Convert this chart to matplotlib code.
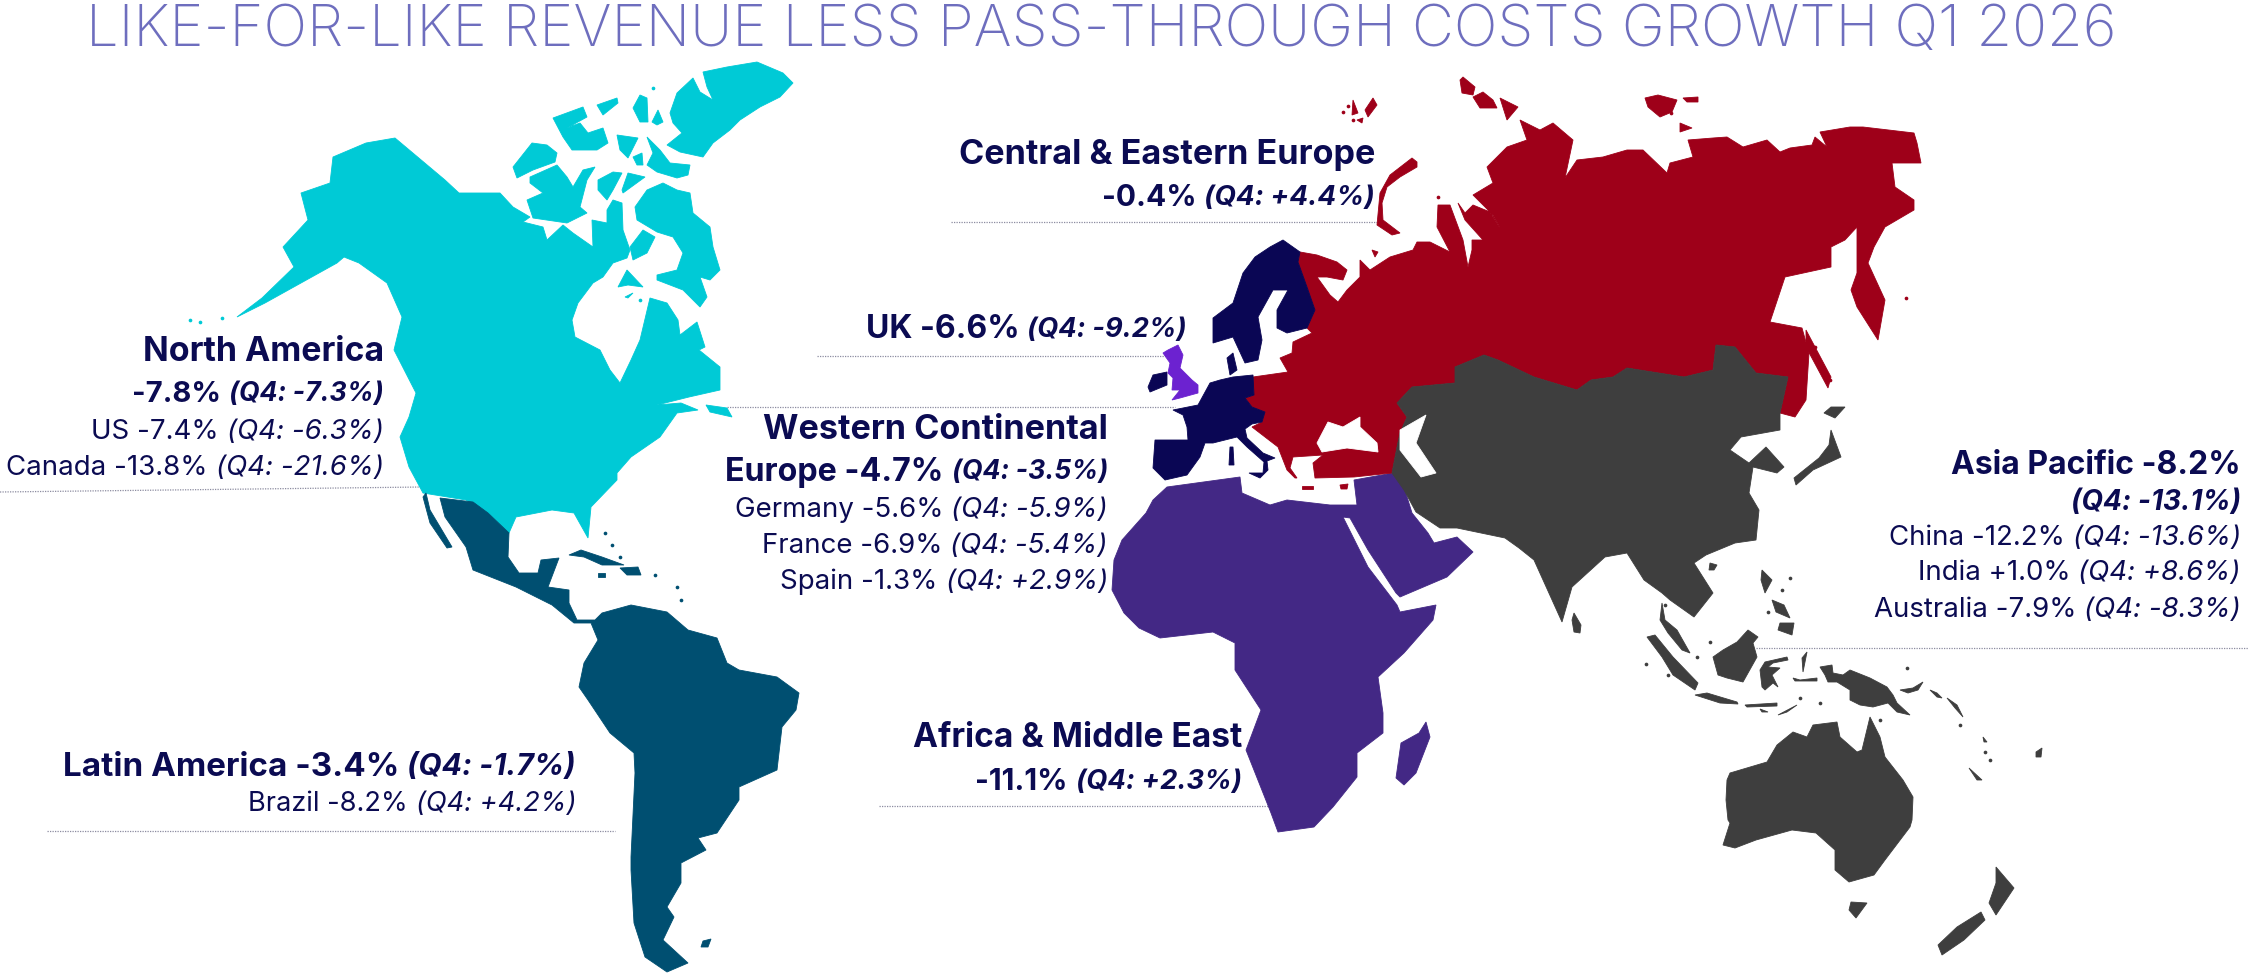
"""Like-for-like revenue less pass-through costs growth, world map with regional figures."""

import matplotlib
matplotlib.use("Agg")
import matplotlib.pyplot as plt
from matplotlib.patches import Polygon

plt.rcParams["font.family"] = ["Inter", "DejaVu Sans"]

TITLE = "LIKE-FOR-LIKE REVENUE LESS PASS-THROUGH COSTS GROWTH Q1 2026"

CYAN = "#00CAD6"
TEAL = "#004F71"
PURPLE = "#432885"
RED = "#9E0019"
GREY = "#3E3E3E"
NAVY = "#0A0654"
VIOLET = "#6C22D0"
INK = "#0B0B52"
RULE = "#8C8CA0"

# map outlines, in image pixels
NORTH_AMERICA = [
    (395, 138), (445, 180), (459, 193), (480, 193), (500, 193), (513, 207), (530, 217), (523, 222),
    (543, 227), (547, 240), (563, 225), (573, 233), (593, 247), (592, 220), (607, 223), (607, 210),
    (613, 200), (622, 203), (623, 230), (630, 250), (627, 258), (613, 263), (603, 277), (593, 283),
    (578, 303), (572, 320), (575, 337), (600, 350), (610, 370), (620, 383), (631, 360), (640, 340),
    (650, 298), (667, 303), (678, 320), (680, 335), (697, 322), (705, 347), (699, 350), (720, 367),
    (720, 390), (689, 397), (657, 405), (681, 403), (698, 410), (677, 413), (660, 437), (631, 457),
    (617, 473), (617, 480), (591, 507), (588, 538), (574, 513), (552, 510), (516, 517), (509, 533),
    (488, 513), (466, 500), (423, 493), (409, 467), (400, 437), (409, 417), (416, 393), (394, 350),
    (402, 317), (387, 283), (359, 263), (344, 257), (337, 263), (301, 283), (265, 303), (237, 317),
    (262, 298), (294, 267), (283, 247), (308, 220), (301, 193), (330, 183), (333, 157), (366, 143),
]
ELLESMERE = [
    (703, 72), (727, 67), (757, 62), (783, 73), (793, 83), (780, 97), (760, 107), (740, 120),
    (730, 130), (713, 143), (703, 157), (680, 152), (667, 145), (682, 133), (673, 123), (670, 113),
    (677, 93), (693, 78), (700, 92), (713, 100), (707, 87),
]
DEVON = [(647, 137), (660, 150), (670, 163), (690, 165), (688, 175), (677, 178), (657, 172), (647, 165), (653, 153)]
MELVILLE_IS = [
    (553, 118), (583, 107), (587, 117), (567, 128), (580, 123), (588, 133), (603, 128), (608, 143),
    (597, 150), (572, 150), (563, 137),
]
BORDEN = [(597, 105), (617, 98), (618, 103), (603, 115)]
AXEL = [(633, 108), (640, 95), (647, 98), (648, 122), (640, 122)]
AMUND = [(652, 122), (658, 110), (663, 122), (657, 125)]
BATHURST = [(617, 135), (638, 138), (628, 158), (620, 150)]
CORNWALLIS = [(633, 157), (642, 153), (643, 165), (637, 165)]
BANKS = [(513, 167), (532, 143), (547, 145), (557, 153), (555, 162), (533, 170), (517, 178)]
VICTORIA = [
    (530, 177), (557, 165), (567, 177), (573, 187), (583, 170), (595, 167), (587, 180), (580, 207),
    (587, 213), (567, 223), (533, 218), (527, 200), (543, 193), (530, 183),
]
PRINCE_WALES = [(598, 180), (613, 172), (622, 173), (613, 190), (607, 200), (598, 190)]
SOMERSET = [(628, 173), (645, 177), (623, 193), (622, 190)]
BAFFIN = [
    (635, 207), (647, 190), (663, 183), (677, 190), (690, 193), (693, 213), (710, 227), (713, 247),
    (720, 270), (710, 280), (700, 277), (707, 297), (700, 307), (683, 290), (657, 280), (657, 275),
    (677, 270), (683, 253), (673, 237), (657, 232), (637, 220),
]
MELVILLE_PEN = [(630, 247), (643, 230), (655, 237), (647, 253), (633, 260)]
SOUTHAMPTON = [(618, 287), (627, 270), (643, 287), (628, 285)]
COATS = [(625, 297), (633, 293), (628, 298)]
NEWFOUNDLAND = [(706, 405), (727, 408), (732, 417), (710, 412)]

LATIN_AMERICA = [
    (440, 498), (473, 502), (488, 513), (509, 533), (508, 557), (519, 573), (538, 573), (541, 560),
    (559, 558), (548, 587), (569, 590), (569, 603), (577, 620), (595, 620), (602, 613), (631, 605),
    (667, 612), (688, 630), (717, 638), (727, 663), (739, 670), (777, 677), (799, 693), (796, 710),
    (782, 727), (777, 770), (739, 787), (739, 800), (717, 833), (698, 838), (706, 850), (681, 863),
    (681, 883), (667, 907), (674, 917), (663, 940), (688, 963), (667, 972), (645, 957), (634, 923),
    (631, 870), (631, 857), (635, 773), (634, 753), (610, 733), (588, 700), (579, 687), (584, 663),
    (598, 640), (591, 623), (574, 623), (552, 605), (516, 587), (473, 570), (466, 547), (445, 517),
]
BAJA = [(426, 493), (430, 510), (452, 547), (447, 548), (430, 523), (423, 497)]
CUBA = [(569, 555), (581, 550), (602, 557), (624, 565), (602, 565), (584, 557)]
HISPANIOLA = [(620, 568), (638, 567), (641, 575), (627, 575)]
JAMAICA = [(598, 573), (605, 573), (605, 577), (598, 577)]
FALKLAND = [(703, 941), (711, 939), (708, 947), (701, 947)]

AFRICA_MIDDLE_EAST = [
    (1354, 480), (1393, 473), (1404, 487), (1412, 513), (1428, 533), (1434, 543), (1457, 537), (1473, 552),
    (1447, 577), (1400, 597), (1396, 593), (1368, 550), (1350, 518), (1343, 517), (1368, 567), (1397, 605),
    (1400, 612), (1436, 605), (1433, 620), (1404, 653), (1378, 677), (1383, 713), (1383, 733), (1357, 753),
    (1357, 777), (1333, 807), (1314, 827), (1278, 832), (1271, 813), (1246, 750), (1261, 710), (1235, 670),
    (1235, 643), (1213, 632), (1160, 638), (1139, 628), (1124, 613), (1112, 590), (1114, 560), (1122, 540),
    (1146, 513), (1153, 500), (1167, 487), (1240, 477), (1242, 493), (1270, 505), (1287, 500), (1330, 505),
    (1357, 505),
]
MADAGASCAR = [(1426, 722), (1430, 737), (1416, 773), (1404, 785), (1396, 778), (1401, 743), (1419, 733)]

RUSSIA_CEE = [
    (1300, 252), (1317, 255), (1337, 262), (1347, 270), (1343, 280), (1327, 277), (1317, 277), (1330, 295),
    (1338, 302), (1347, 290), (1360, 277), (1360, 260), (1370, 270), (1390, 257), (1413, 250), (1417, 242),
    (1430, 242), (1450, 252), (1437, 227), (1438, 205), (1450, 205), (1463, 240), (1468, 267), (1472, 250),
    (1472, 240), (1483, 240), (1465, 220), (1458, 203), (1465, 213), (1473, 205), (1490, 212), (1500, 228),
    (1493, 215), (1473, 195), (1493, 183), (1487, 167), (1507, 147), (1527, 140), (1520, 120), (1540, 130),
    (1553, 123), (1573, 140), (1565, 178), (1577, 160), (1603, 157), (1627, 150), (1643, 150), (1667, 173),
    (1670, 163), (1693, 157), (1688, 140), (1713, 138), (1727, 137), (1743, 147), (1767, 140), (1780, 152),
    (1790, 148), (1812, 145), (1815, 137), (1827, 147), (1820, 132), (1850, 127), (1863, 127), (1914, 133),
    (1917, 143), (1921, 163), (1892, 163), (1895, 187), (1914, 200), (1914, 210), (1885, 227), (1874, 247),
    (1868, 263), (1885, 300), (1878, 340), (1857, 307), (1851, 290), (1857, 273), (1857, 227), (1845, 240),
    (1831, 247), (1831, 267), (1785, 277), (1770, 322), (1802, 328), (1809, 353), (1806, 400), (1795, 417),
    (1780, 413), (1788, 377), (1756, 373), (1735, 347), (1716, 345), (1713, 370), (1684, 377), (1627, 368),
    (1613, 377), (1591, 380), (1577, 390), (1534, 377), (1498, 360), (1484, 355), (1455, 367), (1455, 383),
    (1412, 387), (1397, 403), (1407, 417), (1400, 433), (1397, 447), (1392, 473), (1354, 477), (1315, 478),
    (1313, 463), (1323, 455), (1293, 457), (1290, 468), (1297, 478), (1295, 478), (1287, 470), (1278, 447),
    (1252, 427), (1262, 422), (1265, 412), (1252, 407), (1245, 398), (1254, 395), (1253, 377), (1288, 372),
    (1280, 358), (1292, 353), (1293, 342), (1312, 333), (1307, 328), (1315, 310), (1307, 287), (1298, 262),
]
NOVAYA_ZEMLYA = [
    (1412, 158), (1417, 162), (1417, 167), (1400, 177), (1387, 187), (1382, 203), (1383, 220), (1400, 233),
    (1392, 235), (1377, 225), (1380, 193), (1390, 175),
]
SEVERNAYA_A = [(1460, 80), (1463, 77), (1475, 87), (1473, 95), (1462, 93)]
SEVERNAYA_B = [(1473, 97), (1483, 92), (1493, 100), (1497, 108), (1480, 108)]
SEVERNAYA_C = [(1500, 98), (1518, 107), (1507, 120)]
NEW_SIBERIAN = [(1645, 98), (1658, 95), (1677, 100), (1672, 112), (1660, 117), (1648, 107)]
DE_LONG = [(1683, 98), (1698, 97), (1698, 102), (1687, 102)]
LYAKHOV = [(1680, 123), (1692, 128), (1680, 132)]
FRANZ_A = [(1373, 98), (1377, 105), (1368, 117), (1365, 110)]
FRANZ_B = [(1353, 100), (1358, 113), (1352, 115)]
FRANZ_C = [(1357, 120), (1363, 118), (1362, 123)]
KOLGUEV = [(1372, 250), (1378, 252), (1375, 257)]
SAKHALIN = [(1806, 330), (1831, 377), (1828, 388), (1806, 347)]
CRETE = [(1302, 486), (1313, 486), (1313, 489), (1302, 489)]
CYPRUS = [(1340, 485), (1348, 484), (1347, 489), (1341, 489)]

ASIA_PACIFIC = [
    (1412, 387), (1455, 383), (1455, 367), (1484, 355), (1498, 360), (1534, 377), (1577, 390), (1591, 380),
    (1613, 377), (1627, 368), (1684, 377), (1713, 370), (1716, 345), (1735, 347), (1756, 373), (1788, 377),
    (1780, 413), (1780, 430), (1741, 437), (1730, 450), (1749, 463), (1766, 447), (1784, 467), (1777, 473),
    (1753, 467), (1749, 493), (1759, 510), (1756, 540), (1735, 543), (1706, 555), (1694, 563), (1713, 593),
    (1694, 617), (1670, 600), (1662, 593), (1644, 580), (1627, 553), (1605, 557), (1572, 587), (1562, 622),
    (1534, 560), (1519, 548), (1505, 538), (1457, 528), (1440, 528), (1416, 512), (1404, 490), (1392, 473),
    (1397, 447), (1400, 433), (1407, 417), (1397, 403),
]
MALAY = [(1662, 603), (1665, 620), (1677, 630), (1690, 653), (1682, 650), (1668, 633), (1660, 620)]
SRI_LANKA = [(1574, 613), (1581, 625), (1580, 633), (1574, 632), (1572, 620)]
SUMATRA = [(1647, 637), (1655, 635), (1673, 657), (1698, 683), (1695, 690), (1673, 675), (1662, 657)]
BORNEO = [
    (1748, 630), (1758, 637), (1753, 643), (1757, 657), (1743, 682), (1727, 678), (1718, 675), (1713, 657),
    (1723, 650), (1737, 642),
]
SULAWESI = [
    (1765, 662), (1787, 657), (1788, 660), (1773, 663), (1768, 667), (1780, 668), (1772, 675), (1778, 687),
    (1773, 683), (1765, 690), (1762, 687), (1760, 670),
]
JAVA = [(1695, 695), (1707, 693), (1737, 702), (1738, 704), (1720, 703)]
SUNDA = [(1745, 705), (1777, 703), (1777, 706), (1747, 707)]
TIMOR = [(1778, 715), (1797, 705), (1787, 712)]
SUMBA = [(1760, 709), (1768, 712), (1762, 712)]
SERAM = [(1793, 678), (1800, 680), (1817, 678), (1817, 681), (1795, 681)]
HALMAHERA = [(1802, 658), (1807, 652), (1805, 662), (1803, 672)]
PAPUA = [
    (1820, 667), (1832, 665), (1833, 673), (1843, 675), (1850, 670), (1870, 678), (1887, 687), (1893, 695),
    (1897, 703), (1910, 715), (1897, 712), (1888, 703), (1873, 707), (1860, 705), (1850, 700), (1850, 690),
    (1837, 682), (1828, 682), (1825, 675),
]
NEW_BRITAIN = [(1900, 690), (1913, 688), (1923, 682), (1918, 690), (1908, 693)]
SOLOMON_A = [(1930, 690), (1937, 693), (1942, 698), (1937, 697)]
SOLOMON_B = [(1947, 698), (1957, 705), (1963, 717), (1955, 708)]
NEW_CALEDONIA = [(1969, 768), (1982, 780), (1977, 780)]
VANUATU = [(1983, 737), (1987, 742), (1984, 742)]
LUZON = [(1762, 570), (1772, 580), (1765, 593), (1761, 580)]
MINDANAO = [(1780, 623), (1794, 623), (1792, 635), (1778, 630)]
VISAYAS = [(1772, 600), (1784, 605), (1790, 618), (1776, 612)]
HAINAN = [(1710, 563), (1717, 565), (1714, 570), (1709, 570)]
HOKKAIDO = [(1831, 407), (1845, 407), (1835, 418), (1824, 413)]
HONSHU = [(1831, 430), (1841, 457), (1813, 470), (1796, 485), (1794, 478), (1819, 458), (1829, 445)]
AUSTRALIA = [
    (1730, 773), (1767, 762), (1777, 745), (1793, 732), (1807, 737), (1813, 725), (1837, 722), (1840, 737),
    (1857, 752), (1862, 750), (1870, 717), (1880, 737), (1885, 757), (1903, 780), (1913, 797), (1912, 820),
    (1910, 827), (1885, 860), (1874, 875), (1849, 882), (1835, 870), (1835, 850), (1816, 833), (1792, 830),
    (1756, 840), (1735, 848), (1723, 845), (1730, 823), (1728, 820), (1726, 800), (1727, 780),
]
TASMANIA = [(1851, 902), (1867, 903), (1856, 918), (1849, 910)]
NZ_NORTH = [(1996, 867), (2014, 888), (1996, 915), (1989, 903), (1996, 883)]
NZ_SOUTH = [(1981, 912), (1985, 920), (1964, 940), (1942, 955), (1938, 945), (1957, 927)]
FIJI = [(2036, 752), (2042, 748), (2041, 757), (2036, 757)]

SCANDINAVIA = [
    (1300, 252), (1283, 240), (1270, 247), (1255, 257), (1243, 273), (1233, 303), (1213, 318), (1213, 343),
    (1233, 337), (1245, 363), (1258, 360), (1262, 340), (1258, 317), (1273, 290), (1288, 290), (1277, 310),
    (1277, 328), (1287, 333), (1307, 328), (1315, 310), (1307, 287), (1298, 262),
]
DENMARK = [(1227, 358), (1233, 353), (1237, 370), (1230, 375)]
WESTERN_EUROPE = [
    (1210, 383), (1220, 380), (1233, 377), (1253, 375), (1254, 395), (1245, 398), (1252, 407), (1265, 412),
    (1262, 422), (1252, 424), (1245, 429), (1247, 438), (1263, 453), (1275, 458), (1267, 461), (1268, 470),
    (1260, 478), (1249, 473), (1263, 473), (1264, 462), (1247, 447), (1237, 437), (1213, 443), (1205, 443),
    (1200, 457), (1187, 475), (1165, 480), (1153, 468), (1155, 440), (1188, 440), (1187, 427), (1183, 415),
    (1173, 410), (1198, 405),
]
SARDINIA = [(1230, 447), (1233, 447), (1234, 465), (1229, 465)]
IRELAND = [(1153, 375), (1167, 372), (1167, 385), (1150, 392), (1148, 387)]
UK = [
    (1168, 350), (1178, 345), (1183, 355), (1180, 368), (1192, 380), (1198, 385), (1198, 393), (1180, 398),
    (1172, 400), (1180, 390), (1172, 390), (1173, 378), (1168, 373), (1170, 363), (1163, 353),
]

# enclosed water drawn over the land
BLACK_SEA = [
    (1317, 443), (1328, 422), (1343, 427), (1360, 417), (1360, 427), (1377, 443), (1378, 452), (1347, 448),
    (1322, 452),
]
CASPIAN = [(1400, 430), (1426, 415), (1416, 443), (1436, 473), (1421, 477), (1400, 450)]

LANDS = [
    (CYAN, [NORTH_AMERICA, ELLESMERE, DEVON, MELVILLE_IS, BORDEN, AXEL, AMUND, BATHURST, CORNWALLIS, BANKS,
            VICTORIA, PRINCE_WALES, SOMERSET, BAFFIN, MELVILLE_PEN, SOUTHAMPTON, COATS, NEWFOUNDLAND]),
    (TEAL, [LATIN_AMERICA, BAJA, CUBA, HISPANIOLA, JAMAICA, FALKLAND]),
    (PURPLE, [AFRICA_MIDDLE_EAST, MADAGASCAR]),
    (RED, [RUSSIA_CEE, NOVAYA_ZEMLYA, SEVERNAYA_A, SEVERNAYA_B, SEVERNAYA_C, NEW_SIBERIAN, DE_LONG, LYAKHOV,
           FRANZ_A, FRANZ_B, FRANZ_C, KOLGUEV, SAKHALIN, CRETE, CYPRUS]),
    (GREY, [ASIA_PACIFIC, MALAY, SRI_LANKA, SUMATRA, BORNEO, SULAWESI, JAVA, SUNDA, TIMOR, SUMBA, SERAM,
            HALMAHERA, PAPUA, NEW_BRITAIN, SOLOMON_A, SOLOMON_B, NEW_CALEDONIA, VANUATU, LUZON, MINDANAO,
            VISAYAS, HAINAN, HOKKAIDO, HONSHU, AUSTRALIA, TASMANIA, NZ_NORTH, NZ_SOUTH, FIJI]),
    (NAVY, [SCANDINAVIA, DENMARK, WESTERN_EUROPE, SARDINIA, IRELAND]),
    (VIOLET, [UK]),
    ("white", [BLACK_SEA, CASPIAN]),
]

# small island specks, in image pixels
CYAN_SPECKS = [(190, 320), (200, 322), (222, 318), (545, 200), (653, 88), (690, 285), (640, 300)]
TEAL_SPECKS = [(605, 533), (612, 545), (620, 557), (655, 575), (677, 587), (681, 600)]
RED_SPECKS = [(1348, 106), (1343, 112), (1353, 120), (1438, 197), (1906, 298), (1671, 113), (1815, 347), (1830, 380)]
GREY_SPECKS = [
    (1710, 642), (1697, 657), (1665, 605), (1790, 578), (1782, 590), (1768, 612), (1820, 703), (1800, 698),
    (1960, 725), (1985, 752), (1990, 760), (1880, 720), (1907, 668), (1646, 664), (1668, 675),
]

REGION_NAMES = [
    "Central & Eastern Europe", "-0.4%", "UK -6.6%", "North America", "-7.8%", "US -7.4%", "Canada -13.8%",
    "Western Continental", "Europe -4.7%", "Germany -5.6%", "France -6.9%", "Spain -1.3%", "Asia Pacific -8.2%",
    "", "China -12.2%", "India +1.0%", "Australia -7.9%", "Latin America -3.4%", "Brazil -8.2%",
    "Africa & Middle East", "-11.1%",
]
REGION_Q4 = [
    "", "(Q4: +4.4%)", "(Q4: -9.2%)", "", "(Q4: -7.3%)", "(Q4: -6.3%)", "(Q4: -21.6%)",
    "", "(Q4: -3.5%)", "(Q4: -5.9%)", "(Q4: -5.4%)", "(Q4: +2.9%)", "",
    "(Q4: -13.1%)", "(Q4: -13.6%)", "(Q4: +8.6%)", "(Q4: -8.3%)", "(Q4: -1.7%)", "(Q4: +4.2%)",
    "", "(Q4: +2.3%)",
]
# right edge, y, bold, size of the figure, size of the Q4 part
LABEL_LAYOUT = [
    (1375, 155, True, 24.6, 0), (1375, 198, True, 21.5, 20), (1187, 330, True, 23, 19.6),
    (384, 352, True, 24.4, 0), (384, 394, True, 21, 19.2), (384, 432, False, 19.9, 19.9),
    (384, 468, False, 19.9, 19.9), (1108, 430, True, 24.6, 0), (1108, 472, True, 23.2, 19.2),
    (1108, 510, False, 19.9, 19.9), (1108, 546, False, 19.9, 19.9), (1108, 582, False, 19.9, 19.9),
    (2241, 465, True, 23, 0), (2241, 503, True, 0, 20.1), (2241, 538, False, 19.9, 19.9),
    (2241, 573, False, 19.9, 19.9), (2241, 610, False, 19.9, 19.9), (576, 767, True, 23.9, 21.7),
    (576, 804, False, 19.6, 19.6), (1242, 738, True, 24.1, 0), (1242, 782, True, 21.5, 19.7),
]

# x start, y start, x end, y end
RULES = [
    (951, 222, 1380, 222),
    (817, 356, 1169, 356),
    (0, 492, 423, 487),
    (727, 407, 1175, 407),
    (1756, 648, 2249, 648),
    (47, 831, 615, 831),
    (879, 806, 1269, 806),
]

fig = plt.figure(figsize=(22.49, 9.77), dpi=100)
ax = fig.add_axes([0, 0, 1, 1])
ax.set_xlim(0, 2249)
ax.set_ylim(977, 0)
ax.axis("off")

for colour, shapes in LANDS:
    for shape in shapes:
        ax.add_patch(Polygon(shape, closed=True, facecolor=colour, edgecolor=colour, linewidth=0.6, zorder=2))

for colour, specks in [(CYAN, CYAN_SPECKS), (TEAL, TEAL_SPECKS), (RED, RED_SPECKS), (GREY, GREY_SPECKS)]:
    ax.scatter([p[0] for p in specks], [p[1] for p in specks], s=7, color=colour, linewidths=0, zorder=2)

for x0, y0, x1, y1 in RULES:
    ax.plot([x0, x1], [y0, y1], color=RULE, linewidth=0.9, linestyle=(0, (1, 1)), zorder=1)

ax.text(86, 31, TITLE, color="#6E6EBE", fontsize=41.65, fontweight="light", ha="left", va="center", zorder=3)

renderer = fig.canvas.get_renderer()
for name, q4, (right, y, bold, name_size, q4_size) in zip(REGION_NAMES, REGION_Q4, LABEL_LAYOUT):
    weight = "bold" if bold else "normal"
    x = right
    if q4:
        t = ax.text(x, y, q4, color=INK, fontsize=q4_size, fontweight=weight, fontstyle="italic",
                    ha="right", va="center", zorder=3)
        x = ax.transData.inverted().transform((t.get_window_extent(renderer).x0, 0))[0] - 8
    if name:
        ax.text(x, y, name, color=INK, fontsize=name_size, fontweight=weight, ha="right", va="center", zorder=3)

fig.savefig("out.png", dpi=100, facecolor="white")
